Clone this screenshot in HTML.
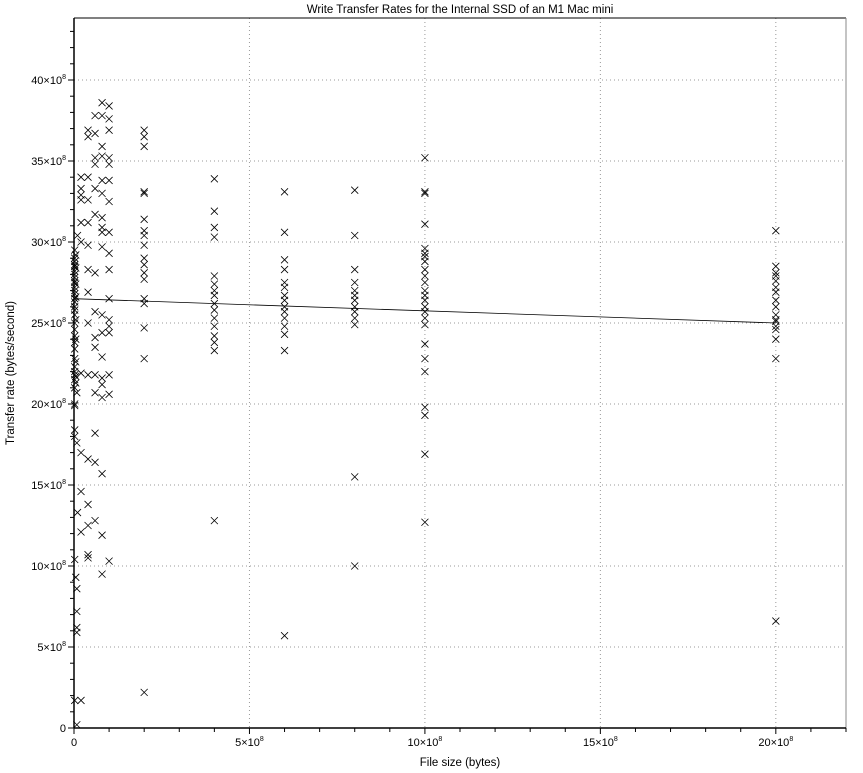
<!DOCTYPE html>
<html><head><meta charset="utf-8"><style>
body{margin:0;background:#fff;}
svg{display:block;font-family:"Liberation Sans",sans-serif;}
</style></head><body>
<svg id="chart" width="863" height="773" xmlns="http://www.w3.org/2000/svg">
<text x="460" y="13" font-size="11.5" text-anchor="middle">Write Transfer Rates for the Internal SSD of an M1 Mac mini</text>
<text x="460" y="766" font-size="11.5" text-anchor="middle">File size (bytes)</text>
<text x="14" y="373" font-size="11.5" text-anchor="middle" transform="rotate(-90 14 373)">Transfer rate (bytes/second)</text>
<g id="grid"></g><g id="axes"></g><g id="marks"></g>
</svg>
<script>
// x in units of 1e6 bytes, y in units of 1e8 bytes/second
const xTicks=[0,5,10,15,20];
const yTicks=[0,5,10,15,20,25,30,35,40];
const fitParams=[26.5,-0.75]; // intercept (1e8), slope per 1e9 bytes
const col2000=[30.7,28.5,28.1,27.9,27.6,27.2,26.9,26.4,26.0,25.5,25.2,25.1,24.8,24.6,24.0,22.8,6.6];
const col1000=[35.2,33.1,33.0,31.1,29.6,29.3,29.1,28.8,28.3,27.9,27.5,27.0,26.7,26.4,26.0,25.7,25.3,24.9,23.7,22.8,22.0,19.8,19.3,16.9,12.7];
const col800=[33.2,30.4,28.3,27.5,27.0,26.7,26.4,26.0,25.7,25.3,24.9,15.5,10.0];
const col600=[33.1,30.6,28.9,28.3,27.5,27.2,26.7,26.4,26.0,25.7,25.3,24.8,24.3,23.3,5.7];
const col400=[33.9,31.9,30.9,30.3,27.9,27.4,27.0,26.7,26.2,25.8,25.3,24.8,24.2,23.8,23.3,12.8];
const col200=[36.9,36.5,35.9,33.1,33.0,31.4,30.7,30.4,29.8,29.0,28.6,28.1,27.7,26.5,26.2,24.7,22.8,2.2];
const smallX=[80,100,60,80,100,40,40,60,100,80,80,60,100,60,100,20,40,80,100,20,20,60,80,20,40,100,60,40,20,80,80,100,80,10,20,40,80,100,60,40,100,40,100,60,80,100,40,100,60,80,100,60,80,40,60,80,100,80,60,100,80,20,8,
2,2,2,8,20,40,60,60,80,20,40,10,20,40,60,80,40,40,100,2,80,5,8,8,8,8,2,20,8,
2,2,2,2,2,2,2,2,2,2,2,2,2,2,2,2,2,2,2,2,2,2,2,2,2,2,2,2,2,2,5,5,5,5,5,5,5,5,5];
const smallY=[38.6,38.4,37.8,37.8,37.6,36.9,36.5,36.7,36.9,35.9,35.3,35.2,35.2,34.8,34.8,34.0,34.0,33.8,33.8,33.3,32.9,33.3,33.0,32.6,32.6,32.5,31.7,31.2,31.2,31.5,30.9,30.6,30.6,30.4,30.0,29.8,29.7,29.3,28.1,28.3,28.3,26.9,26.5,25.7,25.5,25.2,25.0,24.8,24.1,24.4,24.4,23.5,22.9,21.8,21.8,21.6,21.8,21.2,20.7,20.6,20.4,21.9,20.7,
19.9,18.4,18.0,17.6,17.0,16.6,16.4,18.2,15.7,14.6,13.8,13.3,12.1,12.5,12.8,11.9,10.7,10.5,10.3,10.4,9.5,9.3,8.6,7.2,6.2,5.9,1.7,1.7,0.2,
29.5,29.0,28.8,28.5,28.2,28.0,27.8,27.5,27.2,27.0,26.8,26.5,26.3,26.0,25.5,25.0,24.6,24.2,23.8,23.4,22.8,22.3,22.0,21.8,21.5,21.0,20.0,25.8,27.6,28.6,29.2,28.4,27.4,26.6,25.2,24.0,22.6,21.7,21.3];

const X0=74,X1=846,Y0=728,Y1=18,XMAX=2200,YMAX=(728-18)/16.2;
const sx=v=>X0+v/XMAX*(X1-X0);
const sy=v=>Y0-v/YMAX*(Y0-Y1);
const NS="http://www.w3.org/2000/svg";
function mk(tag,attrs,parent){const e=document.createElementNS(NS,tag);for(const k in attrs)e.setAttribute(k,attrs[k]);parent.appendChild(e);return e;}
const grid=document.getElementById('grid'),axes=document.getElementById('axes'),marks=document.getElementById('marks');

xTicks.forEach(t=>{if(t===0)return;const x=sx(t*100);
 const g=mk('line',{x1:x,x2:x,y1:Y1,y2:Y0,stroke:'#999','stroke-dasharray':'1,3','stroke-width':1},grid);
 
 });
yTicks.forEach(t=>{if(t===0)return;const y=sy(t);
 const g=mk('line',{x1:X0,x2:X1,y1:y,y2:y,stroke:'#999','stroke-dasharray':'1,3','stroke-width':1},grid);
 
 });

const fr=mk('line',{x1:X0,x2:X1,y1:Y1,y2:Y1,stroke:'#000','stroke-width':1},axes);


const fr2=mk('line',{x1:X1,x2:X1,y1:Y1,y2:Y0,stroke:'#888','stroke-width':1},axes);


const xa=mk('line',{x1:X0,x2:X1,y1:Y0,y2:Y0,stroke:'#000','stroke-width':1.5},axes);


const ya=mk('line',{x1:X0,x2:X0,y1:Y1,y2:Y0,stroke:'#000','stroke-width':1.5},axes);



for(let i=0;i<=22;i++){const x=sx(i*100);const maj=i%5===0;
 const t=mk('line',{x1:x,x2:x,y1:Y0,y2:Y0+(maj?6:4),stroke:'#000','stroke-width':1},axes);
 
 }
for(let i=0;i<=43;i++){const y=sy(i);const maj=i%5===0;
 const t=mk('line',{x1:X0-(maj?6:4),x2:X0,y1:y,y2:y,stroke:'#000','stroke-width':1},axes);
 
 }

function lbl(t){return t===0?'0':t+'×10<tspan dy="-5" font-size="7">8</tspan>';}
xTicks.forEach(t=>{const e=mk('text',{x:sx(t*100),y:Y0+18,'font-size':11,'text-anchor':'middle'},axes);e.innerHTML=lbl(t);
 
 });
yTicks.forEach(t=>{const e=mk('text',{x:X0-8,y:sy(t)+4,'font-size':11,'text-anchor':'end'},axes);e.innerHTML=lbl(t);
 
 });

function cross(xv,yv){const x=sx(xv),y=sy(yv);
 const p=mk('path',{d:`M${x-3.5},${y-3.5}L${x+3.5},${y+3.5}M${x-3.5},${y+3.5}L${x+3.5},${y-3.5}`,stroke:'#000','stroke-width':0.8,fill:'none'},marks);
 
 }
[[2000,col2000],[1000,col1000],[800,col800],[600,col600],[400,col400],[200,col200]].forEach(([xv,arr])=>arr.forEach(v=>cross(xv,v)));
smallX.forEach((xv,i)=>cross(xv,smallY[i]));

const fit=mk('line',{x1:sx(0),y1:sy(fitParams[0]),x2:sx(2000),y2:sy(fitParams[0]+fitParams[1]*2),stroke:'#000','stroke-width':0.8},marks);


</script>
</body></html>
